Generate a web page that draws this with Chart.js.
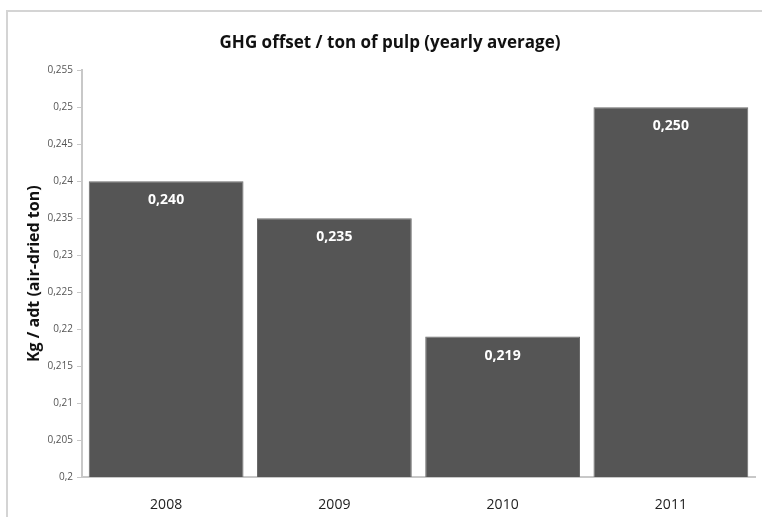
<!DOCTYPE html>
<html>
<head>
<meta charset="utf-8">
<script src="https://cdn.jsdelivr.net/npm/chart.js@4"></script>
<style>
    html, body {margin: 0; padding: 0; background: #ffffff;}
    #wrap {position: relative; width: 762px; height: 517px; overflow: hidden;}
    #frame {position: absolute; left: 6px; top: 10px; width: 800px; height: 600px;
        border-left: 2px solid #d4d4d4; border-top: 2px solid #d4d4d4;}
    #chart {position: absolute; left: 0; top: 0;}
</style>
</head>
<body>
<div id="wrap">
    <div id="frame"></div>
    <canvas id="chart" width="762" height="517"></canvas>
</div>
<script>
const years = ['2008', '2009', '2010', '2011'];
const offsetValues = [0.240, 0.235, 0.219, 0.250];
const axisMin = 0.2;
const axisMax = 0.255;
const axisStep = 0.005;

const comma = (value, digits) => value.toFixed(digits).replace('.', ',');
const tickText = value => String(Number(value.toFixed(3))).replace('.', ',');
const font = 'Open Sans';

// white value label near the top of each bar
const barLabels = {
    id: 'barLabels',
    afterDatasetsDraw(chart) {
        const ctx = chart.ctx;
        ctx.save();
        ctx.fillStyle = '#ffffff';
        ctx.font = 'bold 14px "' + font + '"';
        ctx.textAlign = 'center';
        ctx.textBaseline = 'middle';
        chart.getDatasetMeta(0).data.forEach((bar, i) => {
            ctx.fillText(comma(offsetValues[i], 3), bar.x, bar.y + 19);
        });
        ctx.restore();
    }
};

new Chart(document.getElementById('chart'), {
    type: 'bar',
    data: {
        labels: years,
        datasets: [{
            data: offsetValues,
            backgroundColor: '#555555',
            borderColor: '#6b6b6b',
            borderWidth: 1,
            barPercentage: 0.92,
            categoryPercentage: 1
        }]
    },
    options: {
        responsive: false,
        animation: false,
        layout: {padding: {left: 25, right: 7, top: 0, bottom: 0}},
        plugins: {
            legend: {display: false},
            tooltip: {enabled: false},
            title: {
                display: true,
                text: 'GHG offset / ton of pulp (yearly average)',
                color: '#111111',
                font: {family: font, size: 17, weight: 'bold'},
                padding: {top: 33, bottom: 17}
            }
        },
        scales: {
            x: {
                grid: {display: false},
                border: {color: '#c8c8c8', width: 2},
                ticks: {color: '#222222', font: {family: font, size: 14}, padding: 12},
                afterFit: scale => { scale.height = 40; }
            },
            y: {
                min: axisMin,
                max: axisMax,
                grid: {drawOnChartArea: false, color: '#c8c8c8', tickLength: 5},
                border: {color: '#c8c8c8', width: 2},
                ticks: {
                    stepSize: axisStep,
                    color: '#555555',
                    font: {family: font, size: 10},
                    padding: 4,
                    callback: value => tickText(value)
                },
                title: {
                    display: true,
                    text: 'Kg / adt (air-dried ton)',
                    color: '#111111',
                    font: {family: font, size: 16, weight: 'bold'},
                    padding: {top: 0, bottom: 0}
                },
                afterFit: scale => { scale.width = 57; }
            }
        }
    },
    plugins: [barLabels]
});
</script>
</body>
</html>
